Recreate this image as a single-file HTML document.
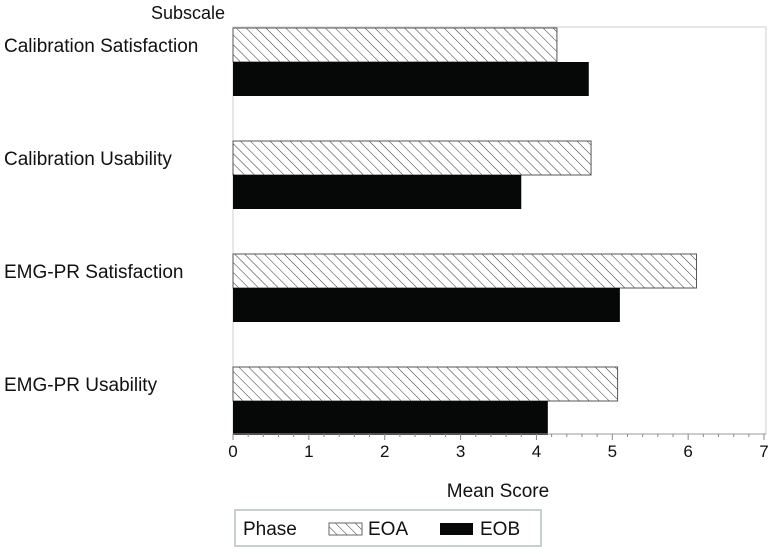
<!DOCTYPE html>
<html><head><meta charset="utf-8"><style>
body{margin:0;background:#fff;}
svg text{font-family:"Liberation Sans",Arial,sans-serif;fill:#111;}
</style></head><body>
<svg id="chart" width="773" height="552" viewBox="0 0 773 552" xmlns="http://www.w3.org/2000/svg">
<defs>
<pattern id="hatch" patternUnits="userSpaceOnUse" width="7" height="7" patternTransform="rotate(-45)">
<rect width="7" height="7" fill="#fff"/>
<line x1="0" y1="0" x2="0" y2="7" stroke="#333" stroke-width="1"/>
</pattern>
</defs>
<text x="225" y="19" text-anchor="end" font-size="18">Subscale</text>
<rect x="233" y="27" width="533" height="407" fill="none" stroke="#c8d0d0" stroke-width="1"/>
<g id="bars"></g>
<g id="axis"></g>
<text x="498" y="497" text-anchor="middle" font-size="19">Mean Score</text>
<g>
<rect x="235" y="510" width="306" height="36" fill="none" stroke="#c8d0d0" stroke-width="2"/>
<text x="243" y="535" font-size="19">Phase</text>
<rect x="329" y="523" width="33" height="12" fill="url(#hatch)" stroke="#666"/>
<text x="368" y="535" font-size="19">EOA</text>
<rect x="440" y="523" width="33" height="12" fill="#060808"/>
<text x="480" y="535" font-size="19">EOB</text>
</g>
</svg>
<script>
const categories = ["Calibration Satisfaction","Calibration Usability","EMG-PR Satisfaction","EMG-PR Usability"];
const eoaValues = [4.27, 4.72, 6.11, 5.07];
const eobValues = [4.69, 3.80, 5.10, 4.15];
const tickLabels = [0,1,2,3,4,5,6,7];

const NS="http://www.w3.org/2000/svg";
const x0=233, unit=75.86;
function xScale(v){return x0+v*unit;}
function yScale(i){return 28+i*113;}
const barH=34;
const bars=document.getElementById('bars');
const axis=document.getElementById('axis');
function mk(tag,attrs,parent){const e=document.createElementNS(NS,tag);for(const k in attrs)e.setAttribute(k,attrs[k]);parent.appendChild(e);return e;}
categories.forEach((c,i)=>{
  const y=yScale(i);
  const a=mk('rect',{x:x0,y:y,width:xScale(eoaValues[i])-x0,height:barH,fill:'url(#hatch)',stroke:'#555','stroke-width':1},bars);
  
  
  const b=mk('rect',{x:x0,y:y+barH,width:xScale(eobValues[i])-x0,height:barH,fill:'#060808'},bars);
  
  
  const t=mk('text',{x:4,y:y+24,'font-size':19},bars);
  t.textContent=c;
  
  
});
mk('line',{x1:x0,y1:434,x2:766,y2:434,stroke:'#999'},axis);
for(let v=0;v<=7.001;v+=0.2){
  const major=Math.abs(v-Math.round(v))<0.01;
  mk('line',{x1:xScale(v),y1:434,x2:xScale(v),y2:434+(major?6:3),stroke:'#888'},axis);
}
tickLabels.forEach(v=>{
  const t=mk('text',{x:xScale(v),y:457,'font-size':17,'text-anchor':'middle'},axis);
  t.textContent=v;
  
  
});
</script>
</body></html>
